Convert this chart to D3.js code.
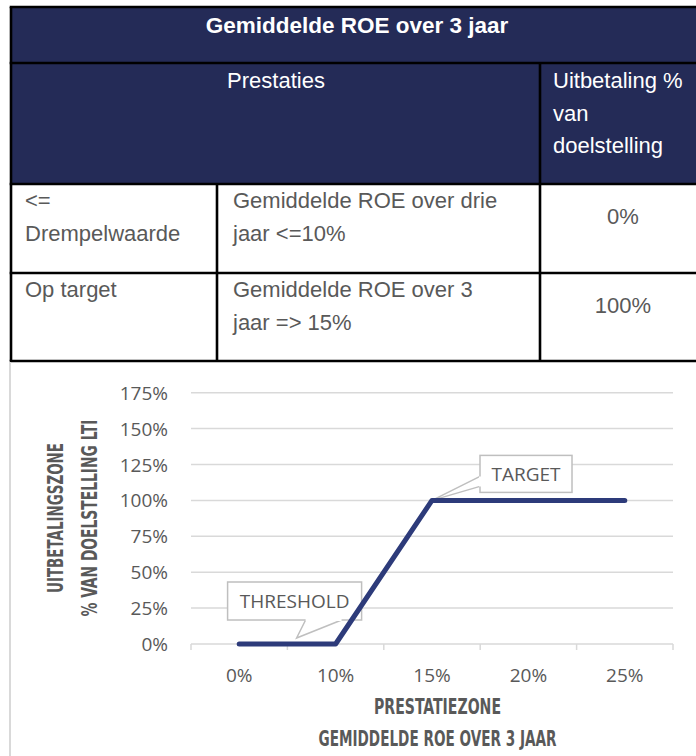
<!DOCTYPE html>
<html>
<head>
<meta charset="utf-8">
<script src="https://cdn.jsdelivr.net/npm/d3@7"></script>
<style>
  body { margin: 0; background: #fff; }
  svg { display: block; }
</style>
</head>
<body>
<svg id="chart"></svg>
<script>
// table content
const tableTitle = "Gemiddelde ROE over 3 jaar";
const headerPerf = "Prestaties";
const headerPayout = ["Uitbetaling %", "van", "doelstelling"];
const rowLabels = [["<=", "Drempelwaarde"], ["Op target"]];
const rowConditions = [["Gemiddelde ROE over drie", "jaar <=10%"], ["Gemiddelde ROE over 3", "jaar => 15%"]];
const rowPayouts = ["0%", "100%"];

// chart data
const categories = ["0%", "10%", "15%", "20%", "25%"];
const payout = [0, 0, 1, 1, 1];
const yTicks = [0, 0.25, 0.5, 0.75, 1, 1.25, 1.5, 1.75];
const yTitle = ["UITBETALINGSZONE", "% VAN DOELSTELLING LTI"];
const xTitle = ["PRESTATIEZONE", "GEMIDDELDE ROE OVER 3 JAAR"];

const width = 696, height = 756;
const navy = "#242b57";
const textGray = "#595959";
const gridGray = "#d9d9d9";
const lineColor = "#2d3b7a";

const svg = d3.select("#chart").attr("width", width).attr("height", height);

// ---- table ----
const tbl = svg.append("g");
const tLeft = 11, tRight = 720;
const rowY = [7, 63, 184, 273, 361];
const col1 = 217, col2 = 540;

tbl.append("rect").attr("x", tLeft).attr("y", rowY[0]).attr("width", tRight - tLeft).attr("height", rowY[2] - rowY[0]).attr("fill", navy);

const tableFont = "'Liberation Sans', Arial, sans-serif";
tbl.append("text").attr("x", 357).attr("y", 33).attr("text-anchor", "middle")
  .attr("fill", "#fff").style("font", `bold 22.5px ${tableFont}`).text(tableTitle);
tbl.append("text").attr("x", 276).attr("y", 88).attr("text-anchor", "middle")
  .attr("fill", "#fff").style("font", `22px ${tableFont}`).text(headerPerf);
headerPayout.forEach((t, i) => {
  tbl.append("text").attr("x", 553).attr("y", 88 + i * 32.5)
    .attr("fill", "#fff").style("font", `22px ${tableFont}`).text(t);
});

const rowText = (lines, x, y0, anchor) => lines.forEach((t, i) => {
  tbl.append("text").attr("x", x).attr("y", y0 + i * 33).attr("text-anchor", anchor || "start")
    .attr("fill", textGray).style("font", `22px ${tableFont}`).text(t);
});
rowLabels.forEach((l, i) => rowText(l, 25, rowY[2 + i] + 24));
rowConditions.forEach((l, i) => rowText(l, 233, rowY[2 + i] + 24));
rowPayouts.forEach((l, i) => rowText([l], 623, rowY[2 + i] + 40, "middle"));

// borders
const bw = 2.6;
rowY.forEach(y => tbl.append("line").attr("x1", tLeft - bw / 2).attr("x2", tRight).attr("y1", y).attr("y2", y)
  .attr("stroke", "#000").attr("stroke-width", bw));
tbl.append("line").attr("x1", tLeft).attr("x2", tLeft).attr("y1", rowY[0]).attr("y2", rowY[4])
  .attr("stroke", "#000").attr("stroke-width", bw);
tbl.append("line").attr("x1", col2).attr("x2", col2).attr("y1", rowY[1]).attr("y2", rowY[4])
  .attr("stroke", "#000").attr("stroke-width", bw);
tbl.append("line").attr("x1", col1).attr("x2", col1).attr("y1", rowY[2]).attr("y2", rowY[4])
  .attr("stroke", "#000").attr("stroke-width", bw);

// ---- chart ----
svg.append("line").attr("x1", 10).attr("x2", 10).attr("y1", rowY[4] + 1).attr("y2", height)
  .attr("stroke", gridGray).attr("stroke-width", 2);

const x = d3.scaleBand().domain(categories).range([191, 673]);
const y = d3.scaleLinear().domain([0, 1.75]).range([644, 392.7]);
const labelFont = "'Open Sans', 'Noto Sans', sans-serif";

const grid = svg.append("g");
grid.selectAll("line.grid").data(yTicks).join("line")
  .attr("x1", x.range()[0]).attr("x2", x.range()[1])
  .attr("y1", d => y(d)).attr("y2", d => y(d))
  .attr("stroke", gridGray).attr("stroke-width", 1.5);

// category tick marks at band edges
const edges = categories.map(c => x(c)).concat([x.range()[1]]);
grid.selectAll("line.tick").data(edges).join("line")
  .attr("x1", d => d).attr("x2", d => d).attr("y1", y(0)).attr("y2", y(0) + 6)
  .attr("stroke", gridGray).attr("stroke-width", 1.5);

const fmt = d3.format(".0%");
svg.append("g").selectAll("text").data(yTicks).join("text")
  .attr("x", 168).attr("y", d => y(d) + 7).attr("text-anchor", "end")
  .attr("fill", textGray).style("font", `19px ${labelFont}`).text(fmt);

svg.append("g").selectAll("text").data(categories).join("text")
  .attr("x", d => x(d) + x.bandwidth() / 2).attr("y", 682).attr("text-anchor", "middle")
  .attr("fill", textGray).style("font", `19px ${labelFont}`).text(d => d);

// axis titles
const titleFont = "'Liberation Sans Narrow', 'DejaVu Sans Condensed', sans-serif";
const yTitleLens = [150, 197];
yTitle.forEach((t, i) => {
  svg.append("text").attr("transform", `translate(${63 + i * 34},518) rotate(-90)`)
    .attr("text-anchor", "middle").attr("fill", textGray)
    .attr("textLength", yTitleLens[i]).attr("lengthAdjust", "spacingAndGlyphs")
    .style("font", `bold 22px ${titleFont}`).text(t);
});
const xTitleLens = [127, 238];
xTitle.forEach((t, i) => {
  svg.append("text").attr("x", 437.5).attr("y", 714 + i * 31.5)
    .attr("text-anchor", "middle").attr("fill", textGray)
    .attr("textLength", xTitleLens[i]).attr("lengthAdjust", "spacingAndGlyphs")
    .style("font", `bold 21px ${titleFont}`).text(t);
});

// callouts
const cx = i => x(categories[i]) + x.bandwidth() / 2;
const callouts = [
  { label: "THRESHOLD", idx: 1, box: [-108, -62, 134, 38], tail: [[-30, -24], [-39, -6], [6, -24]] },
  { label: "TARGET", idx: 2, box: [48, -45, 92, 37], tail: [[48, -24], [0, 0], [48, -14]] }
];
callouts.forEach(c => {
  const px = cx(c.idx), py = y(payout[c.idx]);
  const [bx, by, bwid, bh] = c.box;
  const g = svg.append("g").attr("transform", `translate(${px},${py})`);
  g.append("rect").attr("x", bx).attr("y", by).attr("width", bwid).attr("height", bh)
    .attr("fill", "#fff").attr("stroke", "#bfbfbf").attr("stroke-width", 1.5);
  g.append("path").attr("d", d3.line()(c.tail))
    .attr("fill", "#fff").attr("stroke", "#bfbfbf").attr("stroke-width", 1.5);
  // cover the box edge under the tail opening
  g.append("line").attr("x1", c.tail[0][0]).attr("y1", c.tail[0][1])
    .attr("x2", c.tail[2][0]).attr("y2", c.tail[2][1])
    .attr("stroke", "#fff").attr("stroke-width", 2);
  g.append("text").attr("x", bx + bwid / 2).attr("y", by + bh / 2 + 7)
    .attr("text-anchor", "middle").attr("fill", textGray)
    .style("font", `19px ${labelFont}`).text(c.label);
});

// series line
const line = d3.line().x((d, i) => cx(i)).y(d => y(d));
svg.append("path").datum(payout).attr("d", line)
  .attr("fill", "none").attr("stroke", lineColor).attr("stroke-width", 5)
  .attr("stroke-linecap", "round").attr("stroke-linejoin", "round");
</script>
</body>
</html>
